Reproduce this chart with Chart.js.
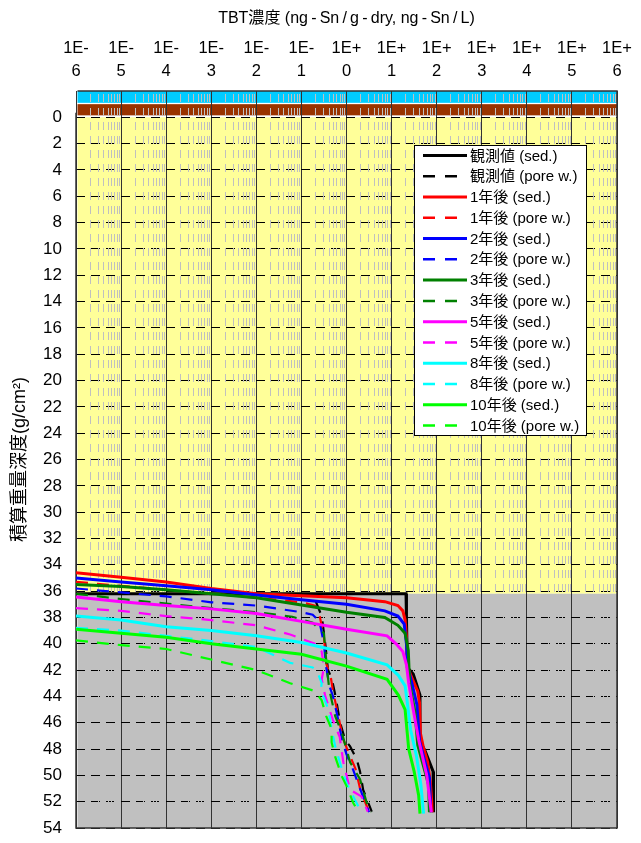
<!DOCTYPE html>
<html>
<head>
<meta charset="utf-8">
<script src="https://cdn.jsdelivr.net/npm/chart.js@4.4.1/dist/chart.umd.min.js"></script>
<style>
  html, body { margin: 0; padding: 0; background: #fff; }
  canvas { display: block; }
</style>
</head>
<body>
<canvas id="chart" width="641" height="843"></canvas>
<script>
// Axis ticks
const decadeExponents = [-6, -5, -4, -3, -2, -1, 0, 1, 2, 3, 4, 5, 6];
const depthTicks = [0, 2, 4, 6, 8, 10, 12, 14, 16, 18, 20, 22, 24, 26, 28, 30, 32, 34, 36, 38, 40, 42, 44, 46, 48, 50, 52, 54];

// Layer boundaries (cumulative mass depth, g/cm2)
const waterLayer = [-2.0, -1.1];
const surfaceLayer = [-1.0, -0.15];
const upperSediment = [0, 36.2];
const lowerSediment = [36.2, 54];

// Series labels
const seriesLabels = [
  '観測値 (sed.)', '観測値 (pore w.)',
  '1年後 (sed.)', '1年後 (pore w.)',
  '2年後 (sed.)', '2年後 (pore w.)',
  '3年後 (sed.)', '3年後 (pore w.)',
  '5年後 (sed.)', '5年後 (pore w.)',
  '8年後 (sed.)', '8年後 (pore w.)',
  '10年後 (sed.)', '10年後 (pore w.)'
];

// Profiles: log10 of TBT concentration, and depth
const obsSedLog   = [-6, 1.32, 1.33, 1.35, 1.48, 1.63, 1.63, 1.75, 1.92, 1.93];
const obsSedDepth = [36.2, 36.2, 38.0, 41.8, 42.3, 43.9, 47.4, 48.2, 49.7, 52.8];
const obsPoreLog   = [-0.68, -0.55, -0.48, -0.41, -0.33, -0.26, -0.14, -0.03, 0.08, 0.23, 0.30, 0.37, 0.56];
const obsPoreDepth = [36.8, 37.9, 39.7, 42.0, 42.6, 43.7, 46.0, 47.3, 47.8, 48.8, 49.7, 51.1, 52.75];

const y1SedLog   = [-6, -5, -4, -3, -2, -1, 0, 0.85, 1.14, 1.25, 1.30, 1.33, 1.36, 1.45, 1.58, 1.62, 1.64, 1.70, 1.80, 1.86, 1.89, 1.90];
const y1SedDepth = [34.6, 34.95, 35.3, 35.8, 36.2, 36.35, 36.5, 36.8, 37.1, 37.5, 38.2, 39.5, 41.8, 42.6, 43.6, 44.5, 46.8, 47.8, 49.0, 50.5, 52.0, 52.8];
const y1PoreLog   = [-6, -5, -4, -3, -2, -1, -0.7, -0.6, -0.5, -0.45, -0.35, -0.3, -0.18, -0.08, 0.05, 0.2, 0.3, 0.5];
const y1PoreDepth = [35.3, 35.6, 35.9, 36.2, 36.5, 36.85, 37.1, 37.8, 39.5, 41.5, 42.5, 43.6, 45.5, 47.2, 48.3, 49.5, 51.0, 52.8];

const y2SedLog   = [-6, -5, -4, -3, -2, -1, 0, 0.85, 1.14, 1.28, 1.33, 1.36, 1.45, 1.56, 1.62, 1.72, 1.84, 1.87];
const y2SedDepth = [35.0, 35.3, 35.6, 35.9, 36.3, 36.65, 37.0, 37.5, 37.9, 38.5, 40.0, 41.8, 43.0, 44.6, 47.4, 48.7, 50.2, 52.8];
const y2PoreLog   = [-6, -5, -4, -3, -2, -1, -0.75, -0.6, -0.5, -0.45, -0.38, -0.3, -0.2, -0.1, 0.0, 0.15, 0.3, 0.5];
const y2PoreDepth = [35.8, 36.1, 36.4, 36.85, 37.1, 37.6, 37.8, 38.3, 40.0, 41.8, 43.2, 44.0, 45.5, 47.3, 48.4, 49.6, 51.0, 52.8];

const y3SedLog   = [-6, -5, -4, -3, -2, -1, 0, 0.85, 1.14, 1.30, 1.37, 1.40, 1.52, 1.58, 1.70, 1.82, 1.84];
const y3SedDepth = [35.5, 35.65, 35.9, 36.2, 36.5, 37.05, 37.6, 38.0, 38.6, 39.2, 40.5, 43.0, 45.2, 47.7, 49.2, 50.7, 52.8];
const y3PoreLog   = [-6, -5, -4, -3, -2, -1.2, -0.75, -0.6, -0.5, -0.47, -0.43, -0.38, -0.25, -0.1, 0.08, 0.3, 0.45, 0.55];
const y3PoreDepth = [36.2, 36.6, 36.95, 37.3, 37.6, 37.95, 38.4, 38.9, 39.2, 40.5, 42.0, 43.5, 45.5, 46.8, 49.0, 50.3, 52.1, 52.8];

const y5SedLog   = [-6, -5, -4, -3, -2, -1, 0, 0.9, 1.1, 1.25, 1.33, 1.38, 1.48, 1.60, 1.78, 1.88];
const y5SedDepth = [36.45, 36.8, 37.1, 37.35, 37.7, 38.3, 38.9, 39.4, 40.0, 40.6, 41.6, 43.0, 45.0, 47.3, 50.0, 52.8];
const y5PoreLog   = [-6, -5, -4, -3, -2, -1.25, -0.7, -0.55, -0.5, -0.55, -0.47, -0.3, -0.15, -0.07, 0.08, 0.33, 0.47];
const y5PoreDepth = [37.3, 37.5, 37.9, 38.2, 38.6, 39.3, 40.0, 40.6, 41.8, 42.7, 44.0, 45.8, 47.1, 49.0, 51.1, 51.6, 52.75];

const y8SedLog   = [-6, -5, -4, -3, -2, -1, 0, 0.9, 1.15, 1.30, 1.35, 1.42, 1.55, 1.65, 1.71];
const y8SedDepth = [37.9, 38.2, 38.7, 39.0, 39.4, 39.9, 40.7, 41.6, 42.4, 43.2, 44.5, 46.5, 48.5, 50.7, 52.9];
const y8PoreLog   = [-6, -5, -4, -3, -2, -1.25, -0.75, -0.65, -0.55, -0.57, -0.4, -0.33, -0.25, -0.15, 0.0, 0.15, 0.3];
const y8PoreDepth = [38.8, 39.0, 39.4, 39.8, 40.25, 41.45, 41.8, 42.1, 43.0, 43.5, 45.0, 46.5, 47.8, 49.0, 50.6, 51.6, 52.6];

const y10SedLog   = [-6, -5, -4, -3, -2, -1, 0, 0.9, 1.15, 1.30, 1.34, 1.38, 1.50, 1.60, 1.63];
const y10SedDepth = [38.9, 39.2, 39.5, 40.0, 40.4, 40.8, 41.7, 42.7, 43.9, 45.0, 46.5, 48.0, 49.7, 51.5, 52.9];
const y10PoreLog   = [-6, -5, -4, -3, -2, -1.25, -0.7, -0.55, -0.45, -0.33, -0.33, -0.25, -0.1, 0.0, 0.15, 0.26];
const y10PoreDepth = [39.75, 40.1, 40.4, 41.2, 42.0, 43.0, 43.6, 44.3, 45.5, 46.5, 47.5, 48.6, 50.1, 50.8, 52.1, 52.75];

const profiles = [
  [obsSedLog, obsSedDepth], [obsPoreLog, obsPoreDepth],
  [y1SedLog, y1SedDepth], [y1PoreLog, y1PoreDepth],
  [y2SedLog, y2SedDepth], [y2PoreLog, y2PoreDepth],
  [y3SedLog, y3SedDepth], [y3PoreLog, y3PoreDepth],
  [y5SedLog, y5SedDepth], [y5PoreLog, y5PoreDepth],
  [y8SedLog, y8SedDepth], [y8PoreLog, y8PoreDepth],
  [y10SedLog, y10SedDepth], [y10PoreLog, y10PoreDepth]
];

const seriesColors = ['#000000', '#FF0000', '#0000FF', '#008000', '#FF00FF', '#00FFFF', '#00FF00'];

const FONT = "'Liberation Sans', 'Noto Sans CJK JP', sans-serif";
Chart.defaults.font.family = FONT;
Chart.defaults.color = '#000';

const datasets = profiles.map(([logs, depths], i) => {
  const pore = i % 2 === 1;
  const color = seriesColors[Math.floor(i / 2)];
  return {
    label: seriesLabels[i],
    data: logs.map((l, k) => ({ x: Math.pow(10, l), y: depths[k] })),
    borderColor: color,
    backgroundColor: color,
    borderWidth: pore ? 2.2 : 3,
    borderDash: pore ? [12, 9] : [],
    showLine: true,
    pointRadius: 0,
    tension: 0,
    fill: false,
    order: profiles.length - i
  };
});

// Sediment / water layers behind the grid
const layers = {
  id: 'layers',
  beforeDraw(chart) {
    const { ctx, chartArea: a, scales: { y } } = chart;
    ctx.save();
    ctx.fillStyle = '#fff';
    ctx.fillRect(0, 0, chart.width, chart.height);
    const band = (range, color) => {
      const t = y.getPixelForValue(range[0]);
      const b = y.getPixelForValue(range[1]);
      ctx.fillStyle = color;
      ctx.fillRect(a.left + 1.5, t, a.right - a.left - 1.5, b - t);
    };
    band(waterLayer, '#00CCFF');
    band(surfaceLayer, '#993300');
    band(upperSediment, '#FFFF99');
    band(lowerSediment, '#C0C0C0');
    ctx.restore();
  }
};

// Minor log grid lines and the plot frame
const minorGrid = {
  id: 'minorGrid',
  beforeDatasetsDraw(chart) {
    const { ctx, chartArea: a, scales: { x, y } } = chart;
    ctx.save();
    ctx.strokeStyle = '#C0C0C0';
    ctx.lineWidth = 1;
    ctx.setLineDash([8, 6]);
    for (let e = decadeExponents[0]; e < decadeExponents[decadeExponents.length - 1]; e++) {
      for (let k = 2; k <= 9; k++) {
        const px = Math.round(x.getPixelForValue(k * Math.pow(10, e))) + 0.5;
        ctx.beginPath();
        ctx.moveTo(px, a.top + 3);
        ctx.lineTo(px, a.bottom);
        ctx.stroke();
      }
    }
    ctx.setLineDash([]);
    ctx.strokeStyle = '#333';
    ctx.lineWidth = 1.5;
    ctx.beginPath();
    ctx.moveTo(a.left, y.getPixelForValue(-0.35));
    ctx.lineTo(a.left, a.bottom);
    ctx.lineTo(a.right, a.bottom);
    ctx.lineTo(a.right, a.top);
    ctx.lineTo(a.left + 1.5, a.top);
    ctx.stroke();
    ctx.restore();
  }
};

// Legend box inside the plot
const legendBox = {
  id: 'legendBox',
  afterDatasetsDraw(chart) {
    const ctx = chart.ctx;
    const x0 = 414, y0 = 145, w = 172, h = 290, row = 20.77;
    ctx.save();
    ctx.fillStyle = '#fff';
    ctx.fillRect(x0, y0, w, h);
    ctx.strokeStyle = '#000';
    ctx.lineWidth = 1;
    ctx.strokeRect(x0 + 0.5, y0 + 0.5, w, h);
    chart.data.datasets.forEach((ds, i) => {
      const yy = y0 + 10.5 + i * row;
      ctx.beginPath();
      ctx.setLineDash(ds.borderDash.length ? [12, 10] : []);
      ctx.lineWidth = ds.borderDash.length ? 2.5 : 3;
      ctx.strokeStyle = ds.borderColor;
      ctx.moveTo(423, yy);
      ctx.lineTo(467, yy);
      ctx.stroke();
      ctx.setLineDash([]);
      ctx.fillStyle = '#000';
      ctx.font = '15px ' + FONT;
      ctx.textBaseline = 'middle';
      ctx.textAlign = 'left';
      ctx.fillText(ds.label, 470, yy + 1);
    });
    ctx.restore();
  }
};

new Chart(document.getElementById('chart'), {
  type: 'scatter',
  data: { datasets },
  plugins: [layers, minorGrid, legendBox],
  options: {
    responsive: false,
    animation: false,
    layout: { padding: { left: 0, top: 0, right: 24, bottom: 15 } },
    plugins: { legend: { display: false }, tooltip: { enabled: false } },
    scales: {
      x: {
        type: 'logarithmic',
        position: 'top',
        min: Math.pow(10, decadeExponents[0]),
        max: Math.pow(10, decadeExponents[decadeExponents.length - 1]),
        afterBuildTicks(scale) {
          scale.ticks = decadeExponents.map(e => ({ value: Math.pow(10, e), major: true }));
        },
        afterFit(scale) {
          scale.height = 91;
          scale.paddingLeft = 0;
          scale.paddingRight = 0;
        },
        ticks: {
          autoSkip: false,
          maxRotation: 0,
          padding: 8,
          font: { size: 16.5, lineHeight: 1.4 },
          callback(value) {
            const e = Math.round(Math.log10(value));
            return ['1E' + (e < 0 ? '-' : '+'), String(Math.abs(e))];
          }
        },
        grid: { color: '#333', lineWidth: 1, drawTicks: false },
        border: { display: false },
        title: {
          display: true,
          text: 'TBT濃度 (ng\u2009-\u2009Sn\u2009/\u2009g\u2009-\u2009dry, ng\u2009-\u2009Sn\u2009/\u2009L)',
          font: { size: 16, lineHeight: 1.2 },
          padding: { top: 9, bottom: 0 }
        }
      },
      y: {
        type: 'linear',
        reverse: true,
        min: waterLayer[0],
        max: lowerSediment[1],
        afterBuildTicks(scale) {
          scale.ticks = depthTicks.map(v => ({ value: v }));
        },
        afterFit(scale) {
          scale.width = 76;
          scale.paddingTop = 0;
          scale.paddingBottom = 0;
        },
        ticks: { padding: 14, font: { size: 17 } },
        grid: { color: '#000', lineWidth: 1, drawTicks: false },
        border: { display: false, dash: [9, 6] },
        title: {
          display: true,
          text: '積算重量深度(g/cm²)',
          font: { size: 18, lineHeight: 1.2 },
          padding: { top: 9, bottom: 0 }
        }
      }
    }
  }
});
</script>
</body>
</html>
